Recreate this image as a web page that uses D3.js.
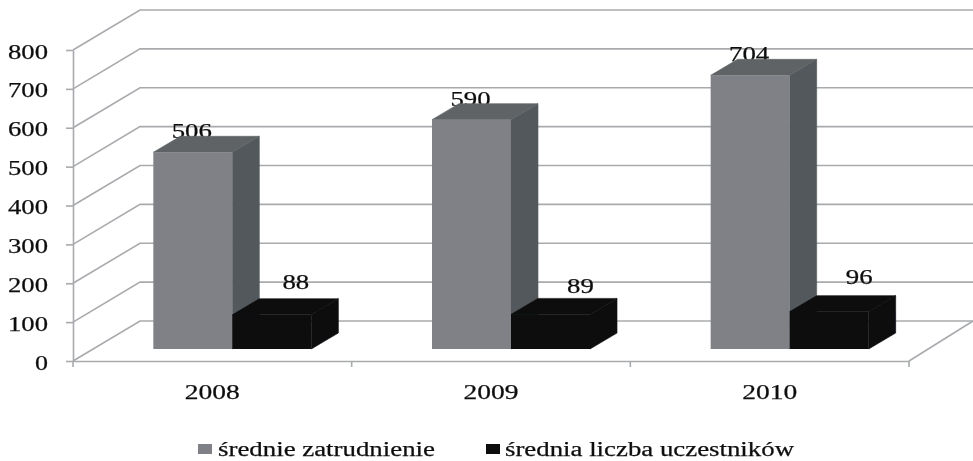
<!DOCTYPE html>
<html>
<head>
<meta charset="utf-8">
<script src="https://cdn.jsdelivr.net/npm/d3@7"></script>
<style>
  html, body { margin: 0; padding: 0; background: #fff; }
  svg { display: block; }
  text { font-family: "Liberation Serif", serif; fill: #111; stroke: #111; stroke-width: 0.25; }
</style>
</head>
<body>
<div id="chart"></div>
<script>
// ----------- Data ------------
const years = ["2008", "2009", "2010"];
const seriesNames = ["średnie zatrudnienie", "średnia liczba uczestników"];
const employment = [506, 590, 704];
const participants = [88, 89, 96];
const yTicks = [0, 100, 200, 300, 400, 500, 600, 700, 800];

const width = 973;
const height = 461;
const fontSize = 20;

// 3D offsets
const wallDx = 67, wallDy = -40;     // floor depth, front axis to back wall
const barDx = 27, barDy = -16;       // bar depth
const barInsetDy = -12;              // bars stand a little behind the front axis
const barShift = 20;                 // and the same to the right

const svg = d3.select("#chart").append("svg")
  .attr("width", width)
  .attr("height", height);

const defs = svg.append("defs");
defs.append("filter").attr("id", "soft")
  .attr("x", "-5%").attr("y", "-5%").attr("width", "110%").attr("height", "110%")
  .append("feGaussianBlur").attr("stdDeviation", 0.5);

const root = svg.append("g").attr("filter", "url(#soft)");

const y = d3.scaleLinear().domain([0, 800]).range([361, 50]);
const x = d3.scaleBand().domain(years).range([73, 909]);
const inner = d3.scaleBand().domain(seriesNames).range([0, 158]);
const barLeft = x.bandwidth() / 2 + barShift - inner.bandwidth();

// Grid: slanted on the side wall, flat along the back wall
const grid = root.append("g");
grid.selectAll("path.wall")
  .data(yTicks)
  .join("path")
  .attr("class", "wall")
  .attr("fill", "none")
  .attr("stroke", "#a8aaad")
  .attr("stroke-width", 1.6)
  .attr("d", d => d3.line()([
    [x.range()[0], y(d)],
    [x.range()[0] + wallDx, y(d) + wallDy],
    [width, y(d) + wallDy]
  ]));

// Floor edge on the right
grid.append("path")
  .attr("fill", "none")
  .attr("stroke", "#a8aaad")
  .attr("stroke-width", 1.6)
  .attr("d", d3.line()([
    [x.range()[1], y(0)],
    [width, y(0) + wallDy]
  ]));

// Y axis
const yAxis = root.append("g")
  .attr("transform", `translate(${x.range()[0]},0)`)
  .call(d3.axisLeft(y).tickValues(yTicks).tickSize(7).tickPadding(18).tickSizeOuter(0));
yAxis.select(".domain").attr("stroke", "#a8aaad").attr("stroke-width", 1.6);
yAxis.selectAll(".tick line").attr("stroke", "#a8aaad").attr("stroke-width", 1.6);
yAxis.selectAll(".tick text")
  .attr("font-size", fontSize)
  .attr("font-family", "Liberation Serif")
  .attr("dy", "0.4em")
  .attr("textLength", d => d === 0 ? 13 : 40)
  .attr("lengthAdjust", "spacingAndGlyphs");

// X axis
const xAxis = root.append("g")
  .attr("transform", `translate(0,${y(0)})`)
  .call(d3.axisBottom(x).tickSize(0).tickPadding(24));
xAxis.select(".domain").attr("stroke", "#a8aaad").attr("stroke-width", 1.6);
xAxis.selectAll(".tick text")
  .attr("font-size", fontSize)
  .attr("font-family", "Liberation Serif")
  .attr("textLength", 55)
  .attr("lengthAdjust", "spacingAndGlyphs");
xAxis.selectAll("line.edge")
  .data(d3.range(years.length + 1))
  .join("line")
  .attr("class", "edge")
  .attr("stroke", "#a8aaad")
  .attr("stroke-width", 1.6)
  .attr("x1", i => x.range()[0] + i * x.step())
  .attr("x2", i => x.range()[0] + i * x.step())
  .attr("y1", 0)
  .attr("y2", 6);

// Bars
const barColors = [
  { front: "#7f8186", top: "#5f6466", side: "#53595b" },
  { front: "#0d0d0f", top: "#0a0a0b", side: "#09090a" }
];

function drawBars(values, si) {
  const name = seriesNames[si];
  const c = barColors[si];
  const bw = inner.bandwidth();
  const base = y(0) + barInsetDy;
  const topOf = v => y(v) + barInsetDy;
  const leftOf = d => x(d.year) + barLeft + inner(name);
  const bars = root.append("g").selectAll("g")
    .data(years.map((year, i) => ({ year, value: values[i] })))
    .join("g");

  bars.append("path")
    .attr("fill", c.side)
    .attr("stroke", c.side)
    .attr("stroke-width", 0.6)
    .attr("d", d => {
      const l = leftOf(d) + bw;
      return d3.line()([
        [l, topOf(d.value)],
        [l + barDx, topOf(d.value) + barDy],
        [l + barDx, base + barDy],
        [l, base]
      ]) + "Z";
    });
  bars.append("path")
    .attr("fill", c.top)
    .attr("stroke", c.top)
    .attr("stroke-width", 0.6)
    .attr("d", d => {
      const l = leftOf(d);
      const t = topOf(d.value);
      return d3.line()([
        [l, t],
        [l + barDx, t + barDy],
        [l + bw + barDx, t + barDy],
        [l + bw, t]
      ]) + "Z";
    });
  bars.append("rect")
    .attr("fill", c.front)
    .attr("x", leftOf)
    .attr("y", d => topOf(d.value))
    .attr("width", bw)
    .attr("height", d => base - topOf(d.value));
}

// Value labels go under the bars so the top face clips them like the original
const labelLayer = root.append("g");
function drawLabels(values, si, nudgeX, nudgeY) {
  labelLayer.selectAll(null)
    .data(values)
    .join("text")
    .attr("x", (d, i) => x(years[i]) + barLeft + inner(seriesNames[si]) + inner.bandwidth() / 2 + nudgeX[i])
    .attr("y", (d, i) => y(d) + barInsetDy + nudgeY[i])
    .attr("text-anchor", "middle")
    .attr("font-size", fontSize)
    .attr("textLength", String(values[0]).length * 13.4)
    .attr("lengthAdjust", "spacingAndGlyphs")
    .text(d => d);
}
drawLabels(employment, 0, [-1, -1, -1], [-14, -14, -14]);
drawLabels(participants, 1, [24, 30, 30], [-26, -21, -28]);

drawBars(employment, 0);
drawBars(participants, 1);

// Legend
const legendItems = [
  { x: 198, textX: 218, len: 217 },
  { x: 486, textX: 505, len: 289 }
];
const legend = root.append("g").selectAll("g")
  .data(seriesNames)
  .join("g");
legend.append("rect")
  .attr("x", (d, i) => legendItems[i].x)
  .attr("y", 444)
  .attr("width", 14)
  .attr("height", 10)
  .attr("fill", (d, i) => barColors[i].front);
legend.append("text")
  .attr("x", (d, i) => legendItems[i].textX)
  .attr("y", 456)
  .attr("font-size", fontSize)
  .attr("textLength", (d, i) => legendItems[i].len)
  .attr("lengthAdjust", "spacingAndGlyphs")
  .text(d => d);
</script>
</body>
</html>
